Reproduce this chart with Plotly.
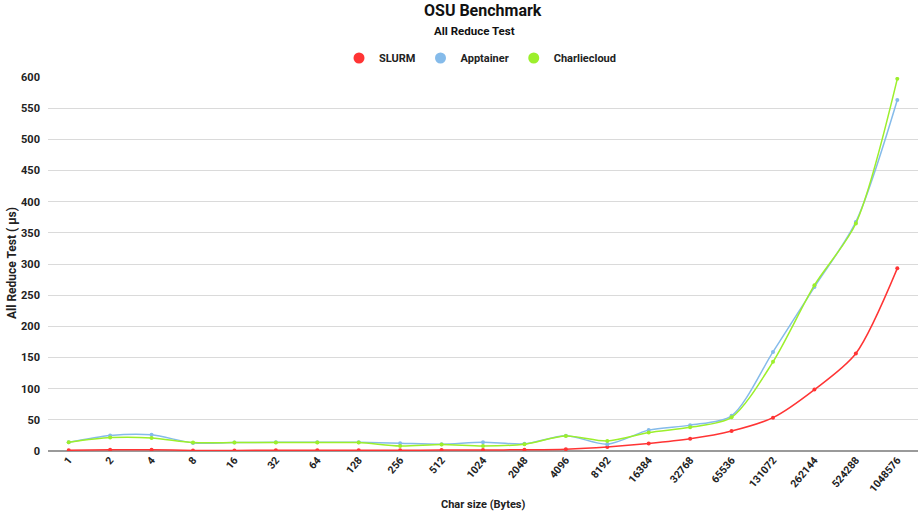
import plotly.graph_objects as go

categories = ["1", "2", "4", "8", "16", "32", "64", "128", "256", "512", "1024",
              "2048", "4096", "8192", "16384", "32768", "65536", "131072",
              "262144", "524288", "1048576"]
slurm = [1.2, 2.0, 1.9, 1.0, 1.0, 1.1, 1.1, 1.2, 1.3, 1.5, 1.6, 2.0, 3.0, 6.5,
         12, 19.5, 32, 53.5, 98.5, 156.5, 293]
apptainer = [14, 25, 26, 13, 13.5, 14, 14, 14, 12.5, 11, 14, 11.5, 24.5, 11,
             33.5, 41.5, 56.5, 159, 263, 367.5, 563]
charliecloud = [14, 21.5, 21, 13.5, 13.5, 13.5, 13.5, 13.5, 8, 10.5, 8, 11, 24, 16,
                29.5, 38, 54, 143, 266, 365, 597]

series_names = ["SLURM", "Apptainer", "Charliecloud"]
series_colors = ["#ff3434", "#85bbea", "#9cef2c"]
series_values = [slurm, apptainer, charliecloud]

FONT = "Roboto"
W, H = 921, 512
ML, MR, MT, MB = 48, 3, 77, 61
PW, PH = W - ML - MR, H - MT - MB


def px_x(x):
    return (x - ML) / PW


def px_y(y):
    return (H - MB - y) / PH


fig = go.Figure()
for name, color, vals in zip(series_names, series_colors, series_values):
    fig.add_trace(go.Scatter(
        x=categories, y=vals, name=name, mode="lines+markers",
        line=dict(color=color, width=1.5, shape="spline", smoothing=0.8),
        marker=dict(color=color, size=4, symbol="circle"),
        showlegend=False, legendgroup=name,
    ))
# legend entries (circle markers only, as in the reference)
for name, color in zip(series_names, series_colors):
    fig.add_trace(go.Scatter(
        x=[categories[0]], y=[None], name=name, mode="markers",
        marker=dict(color=color, size=11, symbol="circle"),
        showlegend=True, legendgroup=name, hoverinfo="skip",
    ))

fig.update_layout(
    width=W, height=H,
    margin=dict(l=ML, r=MR, t=MT, b=MB),
    paper_bgcolor="white", plot_bgcolor="white",
    font=dict(family=FONT, size=11, color="#333333"),
    showlegend=True,
    legend=dict(orientation="h", x=px_x(480), xanchor="center",
                y=px_y(58), yanchor="middle",
                font=dict(family=FONT, size=11, color="#222222", weight="bold"),
                itemsizing="trace", itemwidth=30, traceorder="normal",
                itemclick=False, itemdoubleclick=False),
    annotations=[
        dict(text="OSU Benchmark", x=px_x(483), xref="paper", xanchor="center",
             y=px_y(11), yref="paper", yanchor="middle", showarrow=False,
             font=dict(family=FONT, size=16, color="#111111", weight="bold")),
        dict(text="All Reduce Test", x=px_x(474), xref="paper", xanchor="center",
             y=px_y(31), yref="paper", yanchor="middle", showarrow=False,
             font=dict(family=FONT, size=11.5, color="#111111", weight="bold")),
        dict(text="Char size (Bytes)", x=px_x(483), xref="paper", xanchor="center",
             y=px_y(505), yref="paper", yanchor="middle", showarrow=False,
             font=dict(family=FONT, size=11, color="#222222", weight="bold")),
        dict(text="All Reduce Test ( µs)", x=px_x(12), xref="paper", xanchor="center",
             y=px_y(263), yref="paper", yanchor="middle", showarrow=False,
             textangle=-90,
             font=dict(family=FONT, size=12, color="#222222", weight="bold")),
    ],
)

fig.update_xaxes(
    type="category", range=[-0.5, len(categories) - 0.5],
    tickangle=-50, tickfont=dict(family=FONT, size=10.5, color="#222222", weight="bold"),
    showgrid=False, showline=False, ticks="", automargin=False,
)
fig.update_yaxes(
    range=[0, 600], dtick=50,
    tickfont=dict(family=FONT, size=11, color="#222222", weight="bold"),
    showgrid=True, gridcolor="#dadada", gridwidth=1,
    zeroline=True, zerolinecolor="#9a9a9a", zerolinewidth=1.5,
    ticks="", ticklabelstandoff=7, automargin=False,
)

fig.write_html("out.html",
               config={"displayModeBar": False},
               post_script="document.body.style.margin='0px';"
                           "document.body.style.overflow='hidden';")
